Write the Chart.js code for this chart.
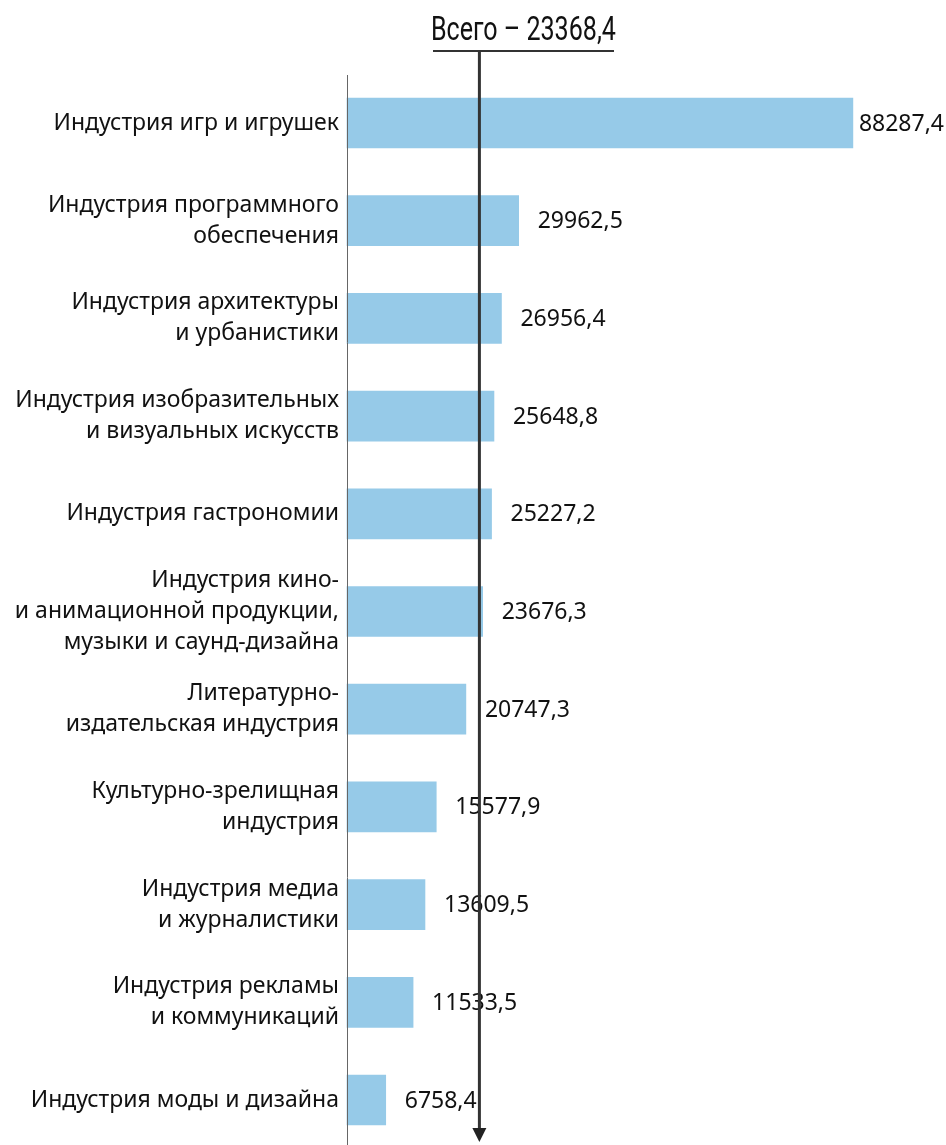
<!DOCTYPE html>
<html lang="ru">
<head>
    <meta charset="UTF-8">
    <title>Креативные индустрии</title>
    <script src="https://cdn.jsdelivr.net/npm/chart.js"></script>
    <style>
        html, body {
            margin: 0;
            padding: 0;
            background: #ffffff;
        }
        #wrap {
            width: 946px;
            height: 1145px;
        }
    </style>
</head>
<body>
    <div id="wrap"><canvas id="barChart"></canvas></div>

    <script>
        // Данные
        const categories = [
            ["Индустрия игр и игрушек"],
            ["Индустрия программного", "обеспечения"],
            ["Индустрия архитектуры", "и урбанистики"],
            ["Индустрия изобразительных", "и визуальных искусств"],
            ["Индустрия гастрономии"],
            ["Индустрия кино-", "и анимационной продукции,", "музыки и саунд-дизайна"],
            ["Литературно-", "издательская индустрия"],
            ["Культурно-зрелищная", "индустрия"],
            ["Индустрия медиа", "и журналистики"],
            ["Индустрия рекламы", "и коммуникаций"],
            ["Индустрия моды и дизайна"]
        ];
        const values = [88287.4, 29962.5, 26956.4, 25648.8, 25227.2, 23676.3, 20747.3, 15577.9, 13609.5, 11533.5, 6758.4];
        const total = 23368.4;
        const totalLabel = "Всего – 23368,4";

        const fmt = v => v.toFixed(1).replace(".", ",");
        const labelFont = '23px "Noto Sans", "Open Sans", sans-serif';

        // Подписи значений справа от столбцов
        const valueLabels = {
            id: "valueLabels",
            afterDatasetsDraw(chart) {
                const ctx = chart.ctx;
                const meta = chart.getDatasetMeta(0);
                ctx.save();
                ctx.font = labelFont;
                ctx.fillStyle = "#111111";
                ctx.textBaseline = "middle";
                ctx.textAlign = "left";
                meta.data.forEach((bar, i) => {
                    const txt = fmt(values[i]);
                    const w = ctx.measureText(txt).width;
                    let x = bar.x + 19;
                    if (x + w > chart.width - 2) x = chart.width - 2 - w;
                    ctx.fillText(txt, x, bar.y + 1);
                });
                ctx.restore();
            }
        };

        // Линия «Всего», заголовок и ось
        const totalLine = {
            id: "totalLine",
            afterDraw(chart) {
                const ctx = chart.ctx;
                const xs = chart.scales.x;
                const left = chart.chartArea.left;
                const ax = xs.getPixelForValue(total) - 1.5;
                ctx.save();

                // левая ось
                ctx.strokeStyle = "#666666";
                ctx.lineWidth = 1;
                ctx.beginPath();
                ctx.moveTo(left + 0.5, 75);
                ctx.lineTo(left + 0.5, chart.height);
                ctx.stroke();

                // заголовок (узкое начертание)
                const cx = ax + 44;
                ctx.save();
                ctx.font = '33px Roboto, "DejaVu Sans", sans-serif';
                ctx.fillStyle = "#111111";
                ctx.textAlign = "center";
                ctx.textBaseline = "alphabetic";
                ctx.translate(cx, 40);
                ctx.scale(0.76, 1);
                ctx.fillText(totalLabel, 0, 0);
                ctx.restore();

                ctx.strokeStyle = "#333333";
                ctx.lineWidth = 2;
                ctx.beginPath();
                ctx.moveTo(433, 51);
                ctx.lineTo(614, 51);
                ctx.stroke();

                // вертикальная стрелка
                ctx.lineWidth = 3;
                ctx.beginPath();
                ctx.moveTo(ax, 51);
                ctx.lineTo(ax, 1130);
                ctx.stroke();
                ctx.fillStyle = "#222222";
                ctx.beginPath();
                ctx.moveTo(ax - 7, 1128);
                ctx.lineTo(ax + 7, 1128);
                ctx.lineTo(ax, 1142);
                ctx.closePath();
                ctx.fill();

                ctx.restore();
            }
        };

        new Chart(document.getElementById("barChart"), {
            type: "bar",
            data: {
                labels: categories,
                datasets: [{
                    data: values,
                    backgroundColor: "#96cae8",
                    borderWidth: 0,
                    barThickness: 50,
                    clip: false
                }]
            },
            options: {
                indexAxis: "y",
                responsive: true,
                maintainAspectRatio: false,
                animation: false,
                layout: {
                    padding: { top: 123, bottom: 45, left: 0, right: 26 }
                },
                plugins: {
                    legend: { display: false },
                    tooltip: { enabled: false }
                },
                scales: {
                    x: {
                        display: false,
                        min: 0,
                        max: 100000
                    },
                    y: {
                        offset: false,
                        grid: { display: false, drawTicks: false },
                        border: { display: false },
                        afterFit(scale) { scale.width = 347; },
                        ticks: {
                            padding: 8,
                            color: "#111111",
                            font: { family: '"Noto Sans", "Open Sans", sans-serif', size: 23, lineHeight: 1.35 }
                        }
                    }
                }
            },
            plugins: [valueLabels, totalLine]
        });
    </script>
</body>
</html>
